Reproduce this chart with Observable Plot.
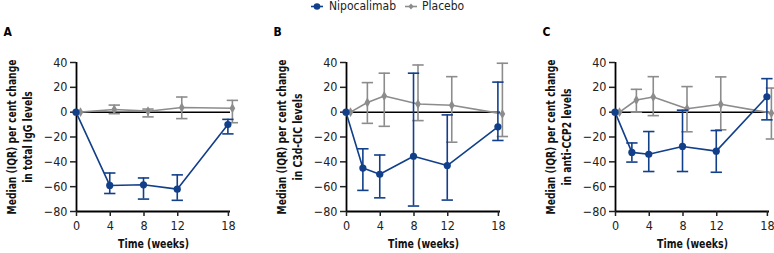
<!DOCTYPE html>
<html>
<head>
<meta charset="utf-8">
<script src="https://cdn.jsdelivr.net/npm/d3@7"></script>
<script src="https://cdn.jsdelivr.net/npm/@observablehq/plot@0.6"></script>
<style>
  html, body { margin: 0; padding: 0; background: #fff; overflow: hidden; }
  #wrap { position: relative; width: 774px; height: 253px; font-family: 'DejaVu Sans Condensed', 'Liberation Sans Narrow', sans-serif; font-stretch: condensed; }
  .panel { position: absolute; top: 0; }
  .panel svg { font-stretch: condensed; }
  #legend { position: absolute; top: 0; left: 0; width: 774px; height: 14px; z-index: 5; font-size: 12px; color: #222; }
  #legend .item { position: absolute; top: 0; height: 13px; line-height: 13px; white-space: nowrap; }
  #legend svg { position: absolute; top: 0; left: 0; }
</style>
</head>
<body>
<div id="wrap">
  <div id="legend"></div>
</div>
<script>
// ---- data ----
const seriesNames = ["Nipocalimab", "Placebo"];
const seriesColors = ["#123f8a", "#8c8c8c"];
const xTicks = [0, 4, 8, 12, 18];
const yTicks = [-80, -60, -40, -20, 0, 20, 40];
const panelLetters = ["A", "B", "C"];
const yTitles = [
  "Median (IQR) per cent change\nin total IgG levels",
  "Median (IQR) per cent change\nin C3d-CIC levels",
  "Median (IQR) per cent change\nin anti-CCP2 levels"
];
const xTitle = "Time (weeks)";

const weeksA = [0, 4, 8, 12, 18];
const weeksBC = [0, 2, 4, 8, 12, 18];

const A_nipoMed = [0, -59, -58.5, -62, -10];
const A_nipoQ1  = [0, -65.5, -70, -71, -17.5];
const A_nipoQ3  = [0, -49, -53, -50.5, -5.8];
const A_placMed = [0, 2.2, 0.8, 3.8, 3.2];
const A_placQ1  = [0, -1.2, -3.8, -5.2, -8.5];
const A_placQ3  = [0, 5.7, 2.5, 12.2, 9.5];

const B_nipoMed = [0, -45, -50, -35.5, -43, -11.8];
const B_nipoQ1  = [0, -63, -69, -75.6, -70.8, -22.8];
const B_nipoQ3  = [0, -29.5, -34.5, 31.4, -2.2, 24.2];
const B_placMed = [0, 7.8, 13, 6.6, 5.6, -1.4];
const B_placQ1  = [0, -9, -11.4, -6.8, -24.2, -19.6];
const B_placQ3  = [0, 23.8, 31.4, 38, 28.6, 39.4];

const C_nipoMed = [0, -32.4, -33.9, -27.6, -31.4, 12.4];
const C_nipoQ1  = [0, -40.2, -47.8, -47.8, -48.4, -6.2];
const C_nipoQ3  = [0, -24.8, -15.6, 1.6, -14.8, 27];
const C_placMed = [0, 9.8, 12.2, 2.8, 6.4, -0.8];
const C_placQ1  = [0, 0, -2.8, -15.8, -14.2, -21.6];
const C_placQ3  = [0, 18.4, 28.6, 20.6, 28.4, 19.4];

function rows(weeks, med, q1, q3) {
  return weeks.map((w, i) => ({week: w, med: med[i], q1: q1[i], q3: q3[i]}));
}

const panels = [
  {nipo: rows(weeksA, A_nipoMed, A_nipoQ1, A_nipoQ3), plac: rows(weeksA, A_placMed, A_placQ1, A_placQ3)},
  {nipo: rows(weeksBC, B_nipoMed, B_nipoQ1, B_nipoQ3), plac: rows(weeksBC, B_placMed, B_placQ1, B_placQ3)},
  {nipo: rows(weeksBC, C_nipoMed, C_nipoQ1, C_nipoQ3), plac: rows(weeksBC, C_placMed, C_placQ1, C_placQ3)}
];

// layout (pixels)
const panelLeft = [0, 270, 539];
const panelWidth = [270, 270, 235];
const mL = 76, frameW = 154, H = 253;

const capSymbol = {
  draw(ctx, size) {
    const w = Math.sqrt(size);
    ctx.moveTo(-w, 0);
    ctx.lineTo(w, 0);
  }
};

const font = "'DejaVu Sans Condensed', 'Liberation Sans Narrow', sans-serif";
const wrap = document.getElementById("wrap");

// squeeze a text element's lines so the first line has the given length
function fitText(textEl, firstLen) {
  const spans = textEl.querySelectorAll("tspan");
  const parts = spans.length ? Array.from(spans) : [textEl];
  const base = parts[0].getComputedTextLength();
  if (!base) return;
  const f = Math.min(1, firstLen / base);
  parts.forEach(s => {
    const L = s.getComputedTextLength();
    s.setAttribute("textLength", (L * f).toFixed(1));
    s.setAttribute("lengthAdjust", "spacingAndGlyphs");
  });
}

panels.forEach((p, k) => {
  const nipoBars = p.nipo.filter(d => d.q1 !== d.q3);
  const placBars = p.plac.filter(d => d.q1 !== d.q3);
  const dxN = -0.5, dxP = 4;
  const plot = Plot.plot({
    width: panelWidth[k],
    height: H,
    marginLeft: mL,
    marginRight: panelWidth[k] - mL - frameW,
    marginTop: 62,
    marginBottom: 42,
    style: {fontFamily: font, fontSize: "12px", color: "#222", background: "transparent", overflow: "visible"},
    x: {domain: [0, 18.25], ticks: xTicks, label: null},
    y: {domain: [-80, 40], ticks: yTicks, label: null},
    marks: [
      Plot.ruleY([0], {stroke: "#000", strokeWidth: 1.5}),
      Plot.ruleX([0], {stroke: "#000", strokeWidth: 1.8}),
      Plot.ruleY([-80], {stroke: "#000", strokeWidth: 1.8}),
      Plot.axisY({ticks: yTicks, tickSize: 6, tickPadding: 3, strokeWidth: 1.5, fontSize: 12.5, label: null}),
      Plot.axisX({ticks: xTicks, tickSize: 5, tickPadding: 5, strokeWidth: 1.5, fontSize: 12.5, label: null}),
      // placebo
      Plot.ruleX(placBars, {x: "week", y1: "q1", y2: "q3", stroke: seriesColors[1], strokeWidth: 1.6, dx: dxP}),
      Plot.dot(placBars, {x: "week", y: "q1", symbol: capSymbol, r: 3.2, stroke: seriesColors[1], strokeWidth: 1.6, fill: "none", dx: dxP}),
      Plot.dot(placBars, {x: "week", y: "q3", symbol: capSymbol, r: 3.2, stroke: seriesColors[1], strokeWidth: 1.6, fill: "none", dx: dxP}),
      Plot.line(p.plac, {x: "week", y: "med", stroke: seriesColors[1], strokeWidth: 1.6, dx: dxP}),
      Plot.dot(p.plac, {x: "week", y: "med", symbol: "diamond", r: 3, fill: seriesColors[1], dx: dxP}),
      // nipocalimab
      Plot.ruleX(nipoBars, {x: "week", y1: "q1", y2: "q3", stroke: seriesColors[0], strokeWidth: 1.6, dx: dxN}),
      Plot.dot(nipoBars, {x: "week", y: "q1", symbol: capSymbol, r: 3.2, stroke: seriesColors[0], strokeWidth: 1.6, fill: "none", dx: dxN}),
      Plot.dot(nipoBars, {x: "week", y: "q3", symbol: capSymbol, r: 3.2, stroke: seriesColors[0], strokeWidth: 1.6, fill: "none", dx: dxN}),
      Plot.line(p.nipo, {x: "week", y: "med", stroke: seriesColors[0], strokeWidth: 1.6, dx: dxN}),
      Plot.dot(p.nipo, {x: "week", y: "med", r: 3.6, fill: seriesColors[0], dx: dxN}),
      // texts
      Plot.text([panelLetters[k]], {frameAnchor: "top-left", text: d => d, dx: -73, dy: -30, fontWeight: "bold", fontSize: 12, textAnchor: "start", lineAnchor: "middle", fill: "#000"}),
      Plot.text([yTitles[k]], {frameAnchor: "left", text: d => d, rotate: -90, dx: -58, fontWeight: "bold", fontSize: 12.5, lineHeight: 1.3, textAnchor: "middle", lineAnchor: "middle", fill: "#111", className: "ytitle"}),
      Plot.text([xTitle], {frameAnchor: "bottom", text: d => d, dy: 32, fontWeight: "bold", fontSize: 13, textAnchor: "middle", lineAnchor: "middle", fill: "#111", className: "xtitle"})
    ]
  });
  const div = document.createElement("div");
  div.className = "panel";
  div.style.left = panelLeft[k] + "px";
  div.appendChild(plot);
  wrap.appendChild(div);
  plot.querySelectorAll(".ytitle text").forEach(t => fitText(t, 155));
  plot.querySelectorAll(".xtitle text").forEach(t => fitText(t, 71));
});

// legend
const legend = document.getElementById("legend");
const legendItems = [
  {left: 310, textLeft: 19, color: seriesColors[0], shape: "circle"},
  {left: 404, textLeft: 18, color: seriesColors[1], shape: "diamond"}
];
legendItems.forEach((it, i) => {
  const item = document.createElement("div");
  item.className = "item";
  item.style.left = it.left + "px";
  const marker = it.shape === "circle"
    ? `<circle cx="7" cy="6.5" r="3.3" fill="${it.color}"/>`
    : `<path d="M7,3.5 L9.6,6.5 L7,9.5 L4.4,6.5 Z" fill="${it.color}"/>`;
  item.innerHTML = `<svg width="16" height="13"><line x1="1" x2="13" y1="6.5" y2="6.5" stroke="${it.color}" stroke-width="1.6"/>${marker}</svg><span style="position:absolute;left:${it.textLeft}px;top:0">${seriesNames[i]}</span>`;
  legend.appendChild(item);
});
</script>
</body>
</html>
